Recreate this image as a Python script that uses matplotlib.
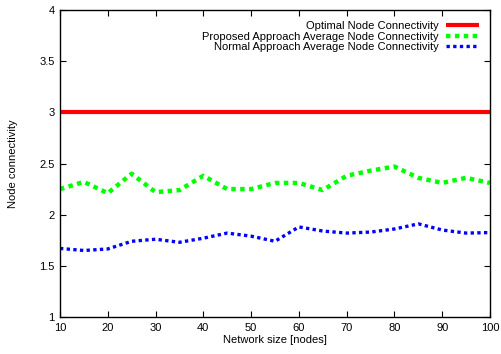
import matplotlib
matplotlib.use("Agg")
import matplotlib.pyplot as plt
import numpy as np

plt.rcParams["font.family"] = ["Liberation Sans", "DejaVu Sans"]

# ── data ─────────────────────────────────────────────────────────────────────
sizes = np.arange(10, 101, 5)
optimal = [3.0] * len(sizes)
proposed = [2.25, 2.32, 2.21, 2.40, 2.22, 2.24, 2.38, 2.25, 2.25, 2.31,
            2.31, 2.24, 2.38, 2.43, 2.47, 2.36, 2.31, 2.36, 2.31]
normal = [1.67, 1.65, 1.665, 1.74, 1.76, 1.73, 1.77, 1.82, 1.79, 1.74,
          1.88, 1.84, 1.82, 1.83, 1.86, 1.91, 1.85, 1.82, 1.825]

# ── plot ─────────────────────────────────────────────────────────────────────
fig = plt.figure(figsize=(5.02, 3.54), dpi=100)
ax = fig.add_axes([60 / 502, 37 / 354, 430 / 502, 307 / 354])

ax.plot(sizes, optimal, color="#ff0000", lw=3.0, solid_capstyle="butt",
        label="Optimal Node Connectivity")
ax.plot(sizes, proposed, color="#00ff00", lw=3.2, ls=(0, (1, 1)),
        dash_capstyle="butt", label="Proposed Approach Average Node Connectivity")
ax.plot(sizes, normal, color="#0000ff", lw=2.4, ls=(0, (1, 1)),
        dash_capstyle="butt", label="Normal Approach Average Node Connectivity")

ax.set_xlim(10, 100)
ax.set_ylim(1, 4)
ax.set_xticks(np.arange(10, 101, 10))
ax.set_yticks(np.arange(1, 4.01, 0.5))
ax.set_yticklabels(["1", "1.5", "2", "2.5", "3", "3.5", "4"])
ax.tick_params(direction="in", top=True, right=True, labelsize=8,
               length=4, width=0.8, pad=4)
for s in ax.spines.values():
    s.set_linewidth(1.0)

ax.set_xlabel("Network size [nodes]", fontsize=8, labelpad=2)
ax.set_ylabel("Node connectivity", fontsize=8, labelpad=15)

ax.legend(loc="upper right", frameon=False, fontsize=8, markerfirst=False,
          handlelength=3.0, handletextpad=0.6, labelspacing=0.05,
          borderaxespad=0.6, bbox_to_anchor=(1.0, 1.0))

fig.savefig("out.png", dpi=100, facecolor="white")
